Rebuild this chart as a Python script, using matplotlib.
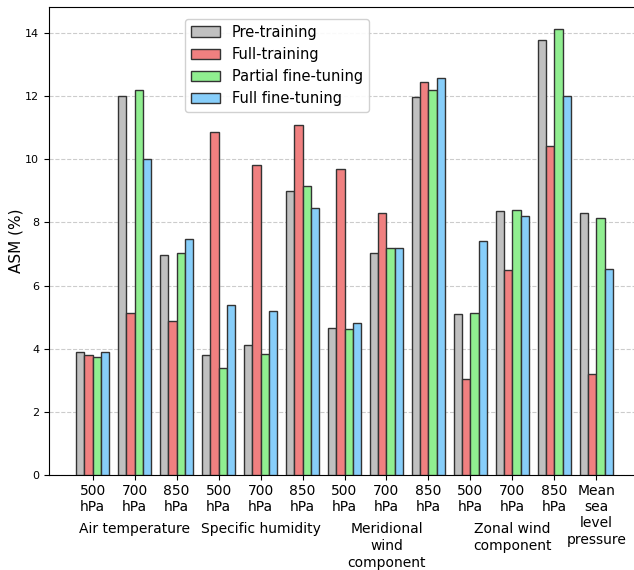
import matplotlib
matplotlib.use("Agg")
import matplotlib.pyplot as plt
import numpy as np
from matplotlib.transforms import blended_transform_factory

tick_labels = ["500\nhPa", "700\nhPa", "850\nhPa",
               "500\nhPa", "700\nhPa", "850\nhPa",
               "500\nhPa", "700\nhPa", "850\nhPa",
               "500\nhPa", "700\nhPa", "850\nhPa",
               "Mean\nsea\nlevel\npressure"]

series_names = ["Pre-training", "Full-training", "Partial fine-tuning", "Full fine-tuning"]

pre_training = [3.89, 12.00, 6.96, 3.80, 4.13, 8.99, 4.66, 7.03, 11.99, 5.10, 8.37, 13.77, 8.30]
full_training = [3.80, 5.13, 4.89, 10.86, 9.81, 11.10, 9.69, 8.30, 12.44, 3.04, 6.48, 10.41, 3.21]
partial_ft = [3.75, 12.21, 7.02, 3.38, 3.83, 9.16, 4.61, 7.19, 12.20, 5.13, 8.38, 14.12, 8.15]
full_ft = [3.89, 10.01, 7.47, 5.38, 5.21, 8.45, 4.82, 7.19, 12.58, 7.40, 8.22, 12.00, 6.52]

group_labels = ["Air temperature", "Specific humidity",
                "Meridional\nwind\ncomponent", "Zonal wind\ncomponent"]
group_centers = [1, 4, 7, 10]

colors = ["#c0c0c0", "#f08080", "#90ee90", "#87cefa"]

fig = plt.figure(figsize=(6.34, 5.70), dpi=100)
# the plot area runs slightly past the right edge of the canvas
ax = fig.add_axes([49 / 634, 95 / 570, 591 / 634, 468 / 570])

x = np.arange(len(tick_labels))
width = 0.2
all_series = [pre_training, full_training, partial_ft, full_ft]
for i, (vals, name, c) in enumerate(zip(all_series, series_names, colors)):
    ax.bar(x + (i - 1.5) * width, vals, width, label=name, color=c,
           edgecolor="#333333", linewidth=1.0, zorder=3)

ax.set_yticks(np.arange(0, 15, 2))
ax.tick_params(axis="y", labelsize=8)
ax.set_xticks(x)
ax.set_xticklabels(tick_labels, fontsize=10, va="top")
ax.tick_params(axis="x", pad=3)
ax.set_ylabel("ASM (%)", fontsize=11, labelpad=1)
ax.grid(axis="y", linestyle="--", color="#cccccc", linewidth=0.8, zorder=0)

trans = blended_transform_factory(ax.transData, ax.transAxes)
for lbl, cx in zip(group_labels, group_centers):
    ax.text(cx, -0.10, lbl, transform=trans, ha="center", va="top",
            fontsize=10, linespacing=1.3)

ax.legend(loc="upper left", bbox_to_anchor=(0.230, 0.975), borderaxespad=0,
          fontsize=10.5, frameon=True, framealpha=0.9)

fig.savefig("out.png", dpi=100)
